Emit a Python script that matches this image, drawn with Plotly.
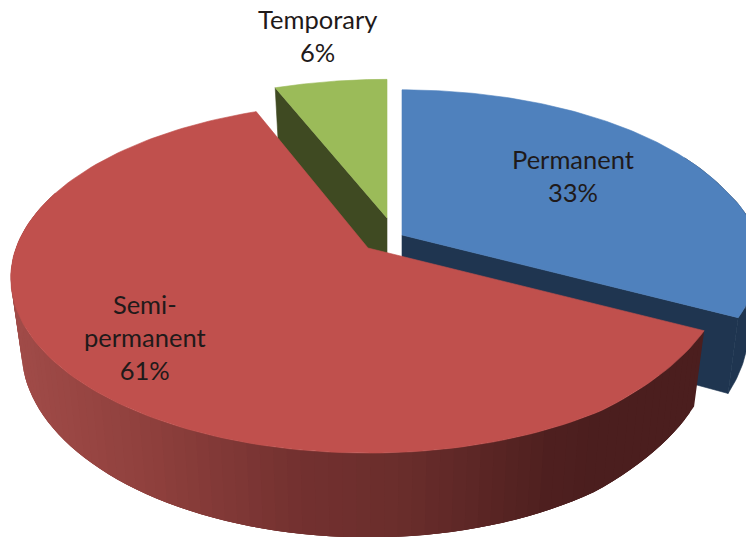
import numpy as np
import plotly.graph_objects as go

categories = ["Permanent", "Semi-permanent", "Temporary"]
values = [33, 61, 6]

TOP = ["#4f81bd", "#c0504d", "#9bbb59"]
SIDE = ["#1f3550", "#4b1e1e", "#3f4a22"]
APEX = [(402, 235), (368, 248), (387, 218)]
FLAT = [1.0, 1.0, 0.955]
LABEL = [(573, 175), (145, 337), (317, 35)]
RX, RY, K = 352, 170, 0.171
W, H = 746, 537
SHRINK, DEPTH, GROW = 0.97, 70, 0.07
GRAD_X = [20, 150, 300, 400, 550, 600]
GRAD_C = [(160, 75, 72), (143, 64, 61), (115, 49, 48), (107, 46, 44), (79, 32, 32), (75, 30, 30)]


def rim(t, apex, flat=1.0):
    """Top-face rim point(s) for clockwise angle t (radians from 12 o'clock)."""
    u, v = np.sin(t), np.cos(t)
    w = 1 + K * v
    lift = 7 * np.clip(1 - ((t - np.radians(110)) / np.radians(35)) ** 2, 0, 1)
    return apex[0] + RX * u / w, apex[1] - flat * RY * v / w - lift


def drop(x, y, apex):
    """Same point on the bottom face of the disc."""
    return apex[0] + (x - apex[0]) * SHRINK, y + DEPTH + (y - apex[1]) * GROW


def poly(fig, x, y, color, lw=0.6):
    fig.add_trace(go.Scatter(
        x=list(x) + [x[0]], y=list(y) + [y[0]], mode="lines", fill="toself",
        fillcolor=color, line=dict(color=color, width=lw),
        hoverinfo="skip", showlegend=False))


def side_color(x):
    c = [np.interp(x, GRAD_X, [g[i] for g in GRAD_C]) for i in range(3)]
    return "rgb(%d,%d,%d)" % tuple(c)


total = sum(values)
edges = np.concatenate([[0], np.cumsum(values)]) / total * 2 * np.pi
fig = go.Figure()

# draw order: back slices first, the large front slice last
for i in [2, 0, 1]:
    a, b = edges[i], edges[i + 1]
    apex = APEX[i]
    t = np.linspace(a, b, 160)
    xr, yr = rim(t, apex, FLAT[i])
    xb, yb = drop(xr, yr, apex)
    ax, ay = drop(apex[0], apex[1], apex)
    if i == 0:  # radial face and the outer wall at the right
        poly(fig, [apex[0], xr[-1], xb[-1], ax], [apex[1], yr[-1], yb[-1], ay], SIDE[i])
        m = t > np.radians(60)
        poly(fig, np.r_[xr[m], xb[m][::-1]], np.r_[yr[m], yb[m][::-1]], SIDE[i])
    elif i == 2:  # radial face on the left
        poly(fig, [apex[0], xr[0], xb[0], ax], [apex[1], yr[0], yb[0], ay], SIDE[i])
    else:  # shaded outer wall: overlapping strips, painted right to left
        ts = np.linspace(a, np.radians(290), 91)
        xs, ys = rim(ts, apex)
        xd, yd = drop(xs, ys, apex)
        for j in range(len(ts) - 1):
            k = min(j + 3, len(ts) - 1)
            seg = np.arange(j, k + 1)
            poly(fig, np.r_[xs[seg], xd[seg][::-1]], np.r_[ys[seg], yd[seg][::-1]],
                 side_color((xs[j] + xs[j + 1]) / 2), lw=0)
    poly(fig, np.r_[apex[0], xr], np.r_[apex[1], yr], TOP[i])

for name, val, (lx, ly) in zip(categories, values, LABEL):
    fig.add_annotation(
        x=lx, y=ly, text=name.replace("-", "-<br>") + "<br>" + f"{val}%",
        showarrow=False, align="center",
        font=dict(family="Lato", size=25.5, color="#1f1a1a"))

fig.update_layout(
    width=W, height=H, margin=dict(l=0, r=0, t=0, b=0), showlegend=False,
    paper_bgcolor="white", plot_bgcolor="white",
    xaxis=dict(range=[0, W], visible=False, fixedrange=True),
    yaxis=dict(range=[H, 0], visible=False, fixedrange=True))
fig.write_html("out.html", config={"displayModeBar": False},
               post_script="document.body.style.margin='0';document.body.style.overflow='hidden';")
